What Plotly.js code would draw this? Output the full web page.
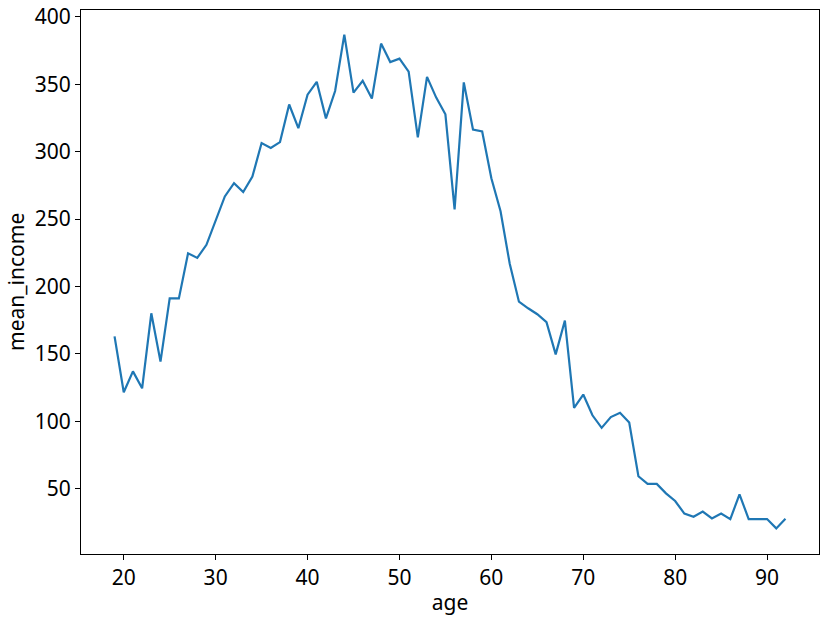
<!DOCTYPE html>
<html>
<head>
<meta charset="utf-8">
<script src="https://cdn.plot.ly/plotly-3.0.1.min.js"></script>
<style>html,body{margin:0;padding:0;background:#fff;}#chart{width:822px;height:623px;}</style>
</head>
<body>
<div id="chart"></div>
<script>
const ages = [19,20,21,22,23,24,25,26,27,28,29,30,31,32,33,34,35,36,37,38,39,40,41,42,43,44,45,46,47,48,49,50,51,52,53,54,55,56,57,58,59,60,61,62,63,64,65,66,67,68,69,70,71,72,73,74,75,76,77,78,79,80,81,82,83,84,85,86,87,88,89,90,91,92];
const meanIncome = [163,121.5,137,124.4,180.1,144.2,191.1,191.1,224.6,221.2,230.9,248.5,266.8,276.6,270,281.5,306.4,302.7,307.1,335,317.4,342.3,351.8,324.7,345,386.8,343.8,352.6,339.4,380.2,366.5,369,359.4,310.6,355.5,340.1,327.7,257.1,351.4,316.4,315,280.3,255.8,216.8,188.7,183.8,179.4,173.5,149.6,174.7,110,119.8,104.4,95.1,103.1,106.3,99,59.2,53.5,53.5,46.5,40.8,31.5,29.1,33,27.9,31.5,27.4,45.7,27.4,27.4,27.4,20.5,27.6];
const xTicks = [20,30,40,50,60,70,80,90];
const yTicks = [50,100,150,200,250,300,350,400];

const font = {family: '"Noto Sans", "Open Sans", sans-serif', size: 21, color: '#000'};
const axisCommon = {
  showline: true, mirror: true, linecolor: '#000', linewidth: 1,
  ticks: 'outside', ticklen: 5, tickwidth: 1, tickcolor: '#000',
  showgrid: false, zeroline: false, tickfont: font, ticklabeloverflow: 'allow'
};
Plotly.newPlot('chart', [{
  x: ages, y: meanIncome, type: 'scatter', mode: 'lines',
  line: {color: '#1f77b4', width: 2.2}
}], {
  width: 822, height: 623,
  margin: {l: 81, r: 3, t: 10, b: 69, pad: 0},
  paper_bgcolor: '#fff', plot_bgcolor: '#fff',
  showlegend: false,
  font: font,
  xaxis: Object.assign({}, axisCommon, {
    range: [15.35, 95.65], tickvals: xTicks, ticktext: xTicks.map(String),
    title: {text: 'age', font: font, standoff: 5}
  }),
  yaxis: Object.assign({}, axisCommon, {
    range: [1.5, 405.1], tickvals: yTicks, ticktext: yTicks.map(String)
  }),
  annotations: [{
    text: 'mean_income', font: font, textangle: -90, showarrow: false,
    xref: 'paper', yref: 'paper', x: 0, y: 0.5, borderpad: 0,
    xanchor: 'center', yanchor: 'middle', xshift: -65
  }]
}, {displayModeBar: false, staticPlot: true});
</script>
</body>
</html>
